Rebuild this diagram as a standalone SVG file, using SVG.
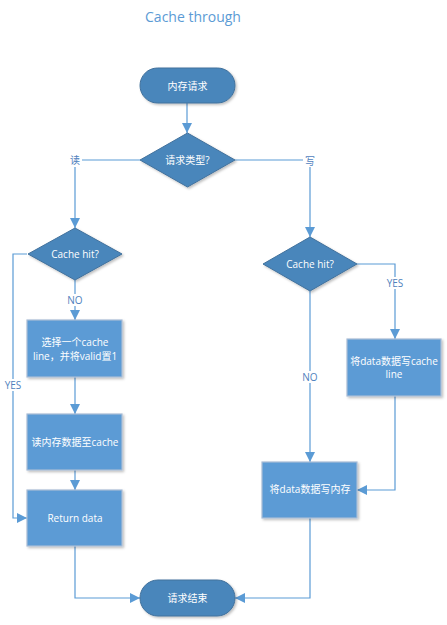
<svg xmlns="http://www.w3.org/2000/svg" width="447" height="625" viewBox="0 0 447 625">
<defs>
<marker id="ah" viewBox="0 0 10 10" refX="10" refY="5" markerWidth="10" markerHeight="10" markerUnits="userSpaceOnUse" orient="auto">
<path d="M0,0 L10,5 L0,10 z" fill="#5b9bd5"/>
</marker>
<filter id="sh" x="-10%" y="-10%" width="130%" height="130%">
<feDropShadow dx="1.5" dy="1.5" stdDeviation="1.2" flood-color="#000" flood-opacity="0.25"/>
</filter>
</defs>
<style>
text{font-family:"Open Sans","Noto Sans CJK SC",sans-serif;text-anchor:middle;dominant-baseline:central}
.t{fill:#ffffff;font-size:10px}
.lab{fill:#4f81bd;font-size:10px}
.term,.dec{fill:#4a86bb;stroke:#41719c;stroke-width:1;filter:url(#sh)}
.proc{fill:#5b9bd5;stroke:#a8bcd6;stroke-width:1.2;filter:url(#sh)}
.c{fill:none;stroke:#5b9bd5;stroke-width:1.2}
.ca{fill:none;stroke:#5b9bd5;stroke-width:1.2;marker-end:url(#ah)}
.lbg{fill:#ffffff}
</style>
<rect width="447" height="625" fill="#ffffff"/>
<text x="193" y="16" style="fill:#5b9bd5;font-size:14px">Cache through</text>

<g id="connectors">
<path class="ca" d="M187,103 V133"/>
<path class="ca" d="M140,160 H75 V228"/>
<path class="ca" d="M235,160 H310 V237"/>
<path class="ca" d="M75,280 V320"/>
<path class="ca" d="M27,254 H13 V518 H27"/>
<path class="ca" d="M75,377 V414"/>
<path class="ca" d="M75,470 V490"/>
<path class="ca" d="M75,546 V598 H140"/>
<path class="ca" d="M357,264 H395 V339"/>
<path class="ca" d="M310,291 V462"/>
<path class="ca" d="M395,396 V490 H357"/>
<path class="ca" d="M310,518 V598 H235"/>
<rect class="lbg" x="68" y="153" width="14" height="14"/>
<text class="lab" x="75" y="160">读</text>
<rect class="lbg" x="303" y="153" width="14" height="14"/>
<text class="lab" x="310" y="161">写</text>
<rect class="lbg" x="66" y="294" width="18" height="12"/>
<text class="lab" x="75" y="300">NO</text>
<rect class="lbg" x="4" y="379" width="18" height="12"/>
<text class="lab" x="13" y="385">YES</text>
<rect class="lbg" x="386" y="277" width="18" height="12"/>
<text class="lab" x="395" y="283">YES</text>
<rect class="lbg" x="301" y="371" width="18" height="12"/>
<text class="lab" x="310" y="377">NO</text>
</g>

<g id="start">
<rect class="term" x="140" y="68" width="95" height="35" rx="17.5"/>
<text class="t" x="187.5" y="86">内存请求</text>
</g>
<g id="reqType">
<polygon class="dec" points="187.5,133 235,160 187.5,187 140,160"/>
<text class="t" x="187.5" y="160">请求类型?</text>
</g>
<g id="hitRead">
<polygon class="dec" points="75,228 122,254 75,280 28,254"/>
<text class="t" x="75" y="254">Cache hit?</text>
</g>
<g id="selectLine">
<rect class="proc" x="27" y="320" width="95" height="57"/>
<text class="t" x="75" y="342">选择一个cache</text>
<text class="t" x="75" y="356">line，并将valid置1</text>
</g>
<g id="readMem">
<rect class="proc" x="27" y="414" width="95" height="56"/>
<text class="t" x="75" y="442">读内存数据至cache</text>
</g>
<g id="returnData">
<rect class="proc" x="27" y="490" width="95" height="56"/>
<text class="t" x="75" y="518">Return data</text>
</g>
<g id="hitWrite">
<polygon class="dec" points="310,237 357,264 310,291 263,264"/>
<text class="t" x="310" y="264">Cache hit?</text>
</g>
<g id="writeCache">
<rect class="proc" x="347" y="339" width="94" height="57"/>
<text class="t" x="394" y="361">将data数据写cache</text>
<text class="t" x="394" y="374">line</text>
</g>
<g id="writeMem">
<rect class="proc" x="262" y="462" width="95" height="56"/>
<text class="t" x="310" y="489">将data数据写内存</text>
</g>
<g id="end">
<rect class="term" x="140" y="580" width="95" height="36" rx="18"/>
<text class="t" x="187.5" y="598">请求结束</text>
</g>
</svg>
